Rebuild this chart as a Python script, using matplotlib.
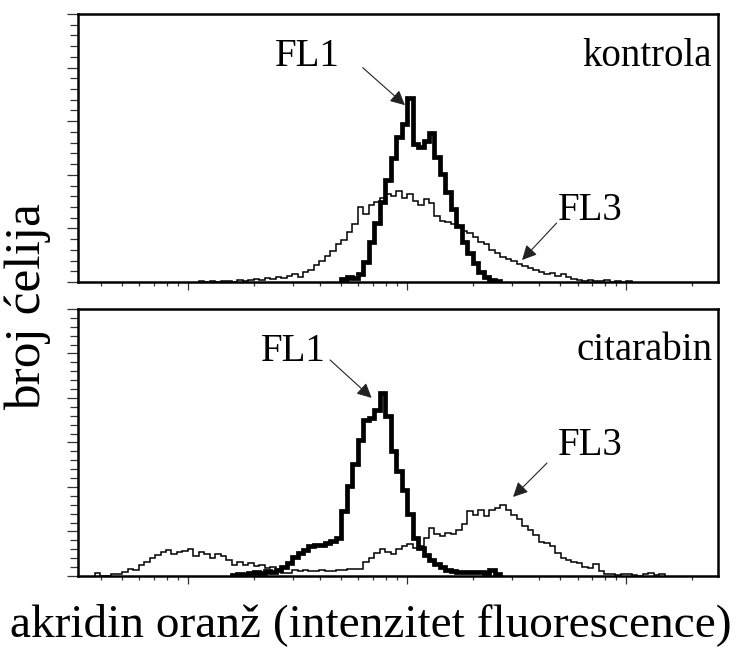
import numpy as np
import matplotlib
matplotlib.use('Agg')
import matplotlib.pyplot as plt
from matplotlib.ticker import MultipleLocator, LogLocator, NullFormatter

plt.rcParams['font.family'] = ['Liberation Serif', 'DejaVu Serif']

# log channels, 40 per decade (10^0.5 .. 10^3.4)
n_channels = 116
edges = np.logspace(0.5, 3.4, n_channels + 1)

# kontrola
fl1_kontrola_start = 48
fl1_kontrola = [3, 5, 4, 7, 19, 37, 55, 75, 95, 116,
                135, 147, 172, 129, 126, 132, 139, 117, 101, 84,
                68, 52, 37, 27, 18, 9, 5, 2, 1]
fl3_kontrola_start = 22
fl3_kontrola = [1, 0, 1, 0, 1, 1, 0, 2, 1, 2,
                3, 2, 4, 3, 5, 4, 6, 7, 5, 9,
                11, 16, 20, 24, 29, 35, 39, 47, 54, 70,
                63, 72, 75, 78, 82, 80, 85, 78, 82, 76,
                72, 77, 74, 62, 57, 56, 54, 51, 48, 46,
                42, 37, 35, 30, 27, 23, 21, 20, 17, 15,
                13, 11, 9, 7, 8, 6, 7, 5, 3, 2,
                1, 2, 1, 1, 2, 0, 1, 0, 1]

# citarabin
fl1_citarabin_start = 28
fl1_citarabin = [1, 2, 1, 3, 4, 3, 6, 4, 7, 10,
                 15, 21, 26, 29, 34, 35, 35, 37, 39, 43,
                 73, 101, 126, 153, 175, 178, 187, 206, 180, 140,
                 118, 97, 70, 43, 31, 24, 18, 13, 10, 7,
                 6, 4, 4, 4, 4, 4, 3, 7, 2]
fl3_citarabin_start = 3
fl3_citarabin = [3, 0, 0, 2, 2, 4, 8, 7, 12, 16,
                 20, 24, 27, 29, 25, 27, 28, 30, 22, 27,
                 25, 20, 25, 22, 18, 12, 16, 12, 15, 11,
                 12, 9, 10, 6, 3, 3, 7, 6, 7, 6,
                 6, 7, 6, 6, 7, 7, 8, 8, 8, 16,
                 20, 26, 30, 27, 25, 30, 34, 36, 31, 34,
                 43, 54, 47, 45, 48, 47, 52, 58, 73, 69,
                 74, 67, 74, 76, 80, 74, 69, 64, 56, 52,
                 46, 38, 37, 34, 26, 20, 18, 16, 15, 10,
                 9, 13, 6, 2, 2, 1, 2, 2, 1, 0,
                 2, 3, 1, 2]

panel_names = ['kontrola', 'citarabin']
ymax = [250, 300]


def draw_hist(ax, start, counts, lw):
    ax.stairs(counts, edges[start:start + len(counts) + 1], color='black',
              linewidth=lw)


def style_axes(ax, top):
    ax.set_xscale('log')
    ax.set_xlim(10 ** 0.498, 10 ** 3.418)
    ax.set_ylim(0, top)
    ax.xaxis.set_major_locator(LogLocator(base=10, numticks=10))
    ax.xaxis.set_minor_locator(LogLocator(base=10, subs=np.arange(2, 10), numticks=10))
    ax.xaxis.set_major_formatter(NullFormatter())
    ax.xaxis.set_minor_formatter(NullFormatter())
    ax.yaxis.set_major_locator(MultipleLocator(50))
    ax.yaxis.set_minor_locator(MultipleLocator(10))
    ax.yaxis.set_major_formatter(NullFormatter())
    ax.tick_params(which='both', direction='out', top=False, right=False, width=0.9,
                   color='#333333')
    ax.tick_params(axis='y', which='major', length=8)
    ax.tick_params(axis='y', which='minor', length=6)
    ax.tick_params(axis='x', which='major', length=6)
    ax.tick_params(axis='x', which='minor', length=3)
    for s in ax.spines.values():
        s.set_linewidth(1.8)


fig = plt.figure(figsize=(7.42, 6.52), dpi=100)
ax1 = fig.add_axes([0.105, 0.5675, 0.8625, 0.411])
ax2 = fig.add_axes([0.105, 0.1166, 0.8625, 0.4095])

draw_hist(ax1, fl3_kontrola_start, fl3_kontrola, 1.1)
draw_hist(ax1, fl1_kontrola_start, fl1_kontrola, 3.4)
draw_hist(ax2, fl3_citarabin_start, fl3_citarabin, 1.1)
draw_hist(ax2, fl1_citarabin_start, fl1_citarabin, 3.4)

style_axes(ax1, ymax[0])
style_axes(ax2, ymax[1])

fs = 28
arrow = dict(arrowstyle='-|>', color='#222222', lw=0.8, mutation_scale=22,
             shrinkA=0, shrinkB=0)

ax1.text(0.991, 0.84, panel_names[0], transform=ax1.transAxes, ha='right', va='center', fontsize=fs)
ax1.text(0.359, 0.84, 'FL1', transform=ax1.transAxes, ha='center', va='center', fontsize=fs)
ax1.annotate('', xy=(0.511, 0.66), xytext=(0.445, 0.80), xycoords='axes fraction',
             arrowprops=arrow)
ax1.text(0.80, 0.265, 'FL3', transform=ax1.transAxes, ha='center', va='center', fontsize=fs)
ax1.annotate('', xy=(0.694, 0.082), xytext=(0.748, 0.22), xycoords='axes fraction',
             arrowprops=arrow)

ax2.text(0.991, 0.846, panel_names[1], transform=ax2.transAxes, ha='right', va='center', fontsize=fs)
ax2.text(0.336, 0.839, 'FL1', transform=ax2.transAxes, ha='center', va='center', fontsize=fs)
ax2.annotate('', xy=(0.459, 0.667), xytext=(0.394, 0.809), xycoords='axes fraction',
             arrowprops=arrow)
ax2.text(0.80, 0.49, 'FL3', transform=ax2.transAxes, ha='center', va='center', fontsize=fs)
ax2.annotate('', xy=(0.680, 0.296), xytext=(0.733, 0.423), xycoords='axes fraction',
             arrowprops=arrow)

fig.text(0.038, 0.53, 'broj ćelija', rotation=90, ha='center', va='center', fontsize=37)
fig.text(0.5, 0.042, 'akridin oranž (intenzitet fluorescence)', ha='center', va='center',
         fontsize=34)

fig.savefig('out.png', dpi=100)
